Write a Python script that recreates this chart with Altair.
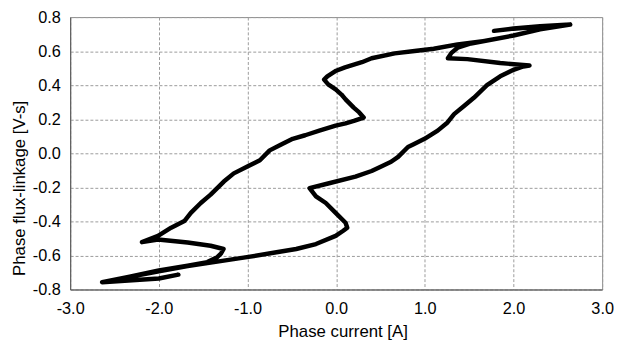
import altair as alt
import pandas as pd

current = [
    2.64, 2.30, 2.00, 1.78, 2.00, 2.30, 2.64, 2.30, 2.00, 1.70, 1.37, 1.10,
    0.885, 0.66, 0.40, 0.29, 0.10, 0.00, -0.10, -0.136, -0.09, -0.006, 0.06,
    0.106, 0.198, 0.26, 0.31, 0.20, 0.106, -0.006, -0.19, -0.35, -0.49, -0.62,
    -0.75, -0.86, -1.007, -1.155, -1.267, -1.416, -1.527, -1.639, -1.712,
    -1.861, -2.009, -2.19, -2.009, -1.675, -1.416, -1.27, -1.30, -1.341,
    -1.453, -1.675, -2.0, -2.343, -2.64, -2.30, -2.00, -1.78, -2.00, -2.30,
    -2.64, -2.34, -2.0, -1.675, -1.453, -1.007, -0.673, -0.451, -0.228,
    -0.006, 0.08, 0.125, 0.106, -0.006, -0.117, -0.228, -0.30, -0.08, 0.217,
    0.40, 0.52, 0.62, 0.699, 0.81, 0.885, 0.997, 1.145, 1.256, 1.33, 1.442,
    1.553, 1.701, 1.85, 2.0, 2.11, 2.18, 1.85, 1.48, 1.26, 1.30, 1.37, 1.52,
    2.0, 2.30, 2.64,
]
flux = [
    0.756, 0.745, 0.732, 0.719, 0.733, 0.746, 0.756, 0.728, 0.692, 0.662,
    0.640, 0.614, 0.601, 0.587, 0.558, 0.535, 0.505, 0.485, 0.452, 0.433,
    0.405, 0.375, 0.345, 0.317, 0.268, 0.24, 0.21, 0.19, 0.176, 0.162, 0.133,
    0.106, 0.085, 0.052, 0.017, -0.041, -0.079, -0.118, -0.166, -0.243,
    -0.292, -0.35, -0.398, -0.437, -0.485, -0.522, -0.506, -0.524, -0.543,
    -0.562, -0.59, -0.61, -0.639, -0.66, -0.688, -0.726, -0.757, -0.745,
    -0.735, -0.713, -0.736, -0.746, -0.757, -0.727, -0.693, -0.663, -0.645,
    -0.61, -0.581, -0.562, -0.533, -0.485, -0.455, -0.437, -0.408, -0.35,
    -0.292, -0.253, -0.205, -0.176, -0.137, -0.104, -0.075, -0.05, -0.021,
    0.037, 0.056, 0.085, 0.133, 0.181, 0.23, 0.278, 0.326, 0.40, 0.452, 0.49,
    0.51, 0.516, 0.53, 0.553, 0.558, 0.59, 0.62, 0.645, 0.692, 0.728, 0.756,
]
x_ticks = [-3, -2, -1, 0, 1, 2, 3]
y_ticks = [-0.8, -0.6, -0.4, -0.2, 0.0, 0.2, 0.4, 0.6, 0.8]

df = pd.DataFrame({"step": list(range(len(current))), "current": current, "flux": flux})

label_expr = "datum.value < 0 ? '-' + format(-datum.value, '.1f') : format(datum.value, '.1f')"
FONT = "Liberation Sans, Arial, sans-serif"

common_axis = dict(
    labelExpr=label_expr,
    labelFont=FONT,
    labelFontSize=16.5,
    labelColor="black",
    labelFlush=False,
    labelOverlap=False,
    titleFont=FONT,
    titleFontSize=17,
    titleFontWeight="normal",
    titleColor="black",
    ticks=False,
    grid=True,
    gridColor="#9a9a9a",
    gridDash=[3, 2],
    gridWidth=1,
    domainColor="#555555",
    domainWidth=1,
    titleBaseline="alphabetic",
)

chart = (
    alt.Chart(df)
    .mark_line(color="black", strokeWidth=4.5, strokeCap="round", strokeJoin="round")
    .encode(
        x=alt.X(
            "current:Q",
            scale=alt.Scale(domain=[-3, 3], nice=False, zero=False),
            axis=alt.Axis(
                values=x_ticks,
                title="Phase current [A]",
                labelPadding=11,
                titleX=276,
                titleY=48,
                titleAlign="center",
                **common_axis,
            ),
        ),
        y=alt.Y(
            "flux:Q",
            scale=alt.Scale(domain=[-0.8, 0.8], nice=False, zero=False),
            axis=alt.Axis(
                values=y_ticks,
                title="Phase flux-linkage [V-s]",
                labelPadding=10,
                titleAngle=270,
                titleX=-46,
                titleY=173,
                titleAlign="center",
                **common_axis,
            ),
        ),
        order=alt.Order("step:Q"),
    )
    .properties(
        width=539,
        height=276,
        padding={"left": 63, "top": 7, "right": 12, "bottom": 52},
        autosize=alt.AutoSizeParams(type="none"),
        background="white",
    )
    .configure_view(stroke="#8a8a8a", strokeWidth=1)
)

chart.save("out.html", embed_options={"renderer": "svg", "actions": False})
